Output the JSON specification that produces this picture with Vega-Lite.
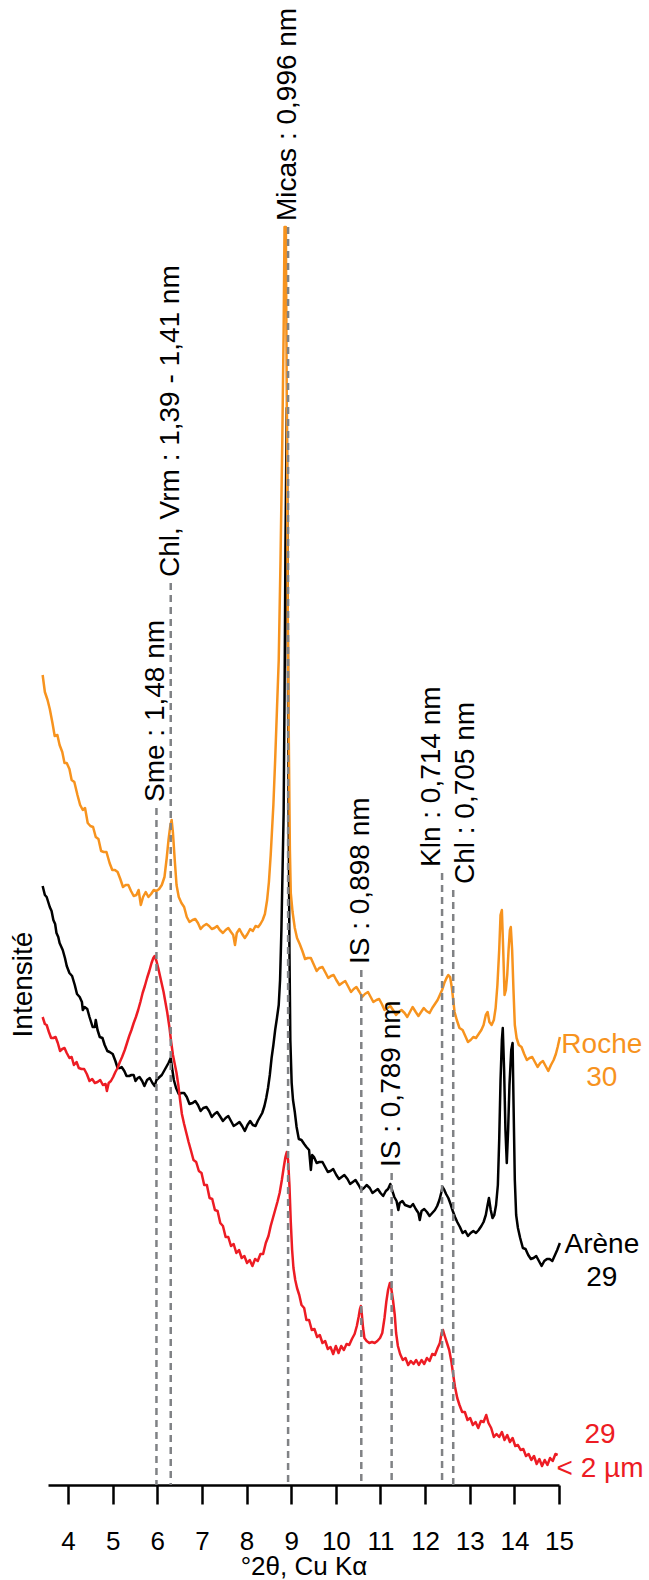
{
  "$schema": "https://vega.github.io/schema/vega-lite/v6.json",
  "width": 511,
  "height": 1485,
  "autosize": {"type": "none"},
  "padding": {"left": 48, "right": 90, "top": 0, "bottom": 95},
  "background": "white",
  "config": {"view": {"stroke": null}, "font": "Liberation Sans"},
  "datasets": {
    "roche": [
      {"t":3.43,"i":810},{"t":3.48,"i":793},{"t":3.54,"i":785},{"t":3.59,"i":776},{"t":3.65,"i":762},{"t":3.70,"i":749},{"t":3.76,"i":750},{"t":3.81,"i":740},{"t":3.87,"i":733},{"t":3.92,"i":722},{"t":3.97,"i":722},{"t":4.03,"i":716},{"t":4.08,"i":705},{"t":4.14,"i":703},{"t":4.21,"i":690},{"t":4.27,"i":680},{"t":4.33,"i":675},{"t":4.38,"i":677},{"t":4.44,"i":662},{"t":4.50,"i":659},{"t":4.56,"i":658},{"t":4.62,"i":648},{"t":4.68,"i":646},{"t":4.74,"i":634},{"t":4.80,"i":633},{"t":4.86,"i":633},{"t":4.93,"i":622},{"t":4.99,"i":615},{"t":5.05,"i":615},{"t":5.11,"i":613},{"t":5.17,"i":606},{"t":5.23,"i":598},{"t":5.29,"i":600},{"t":5.35,"i":600},{"t":5.41,"i":594},{"t":5.47,"i":589},{"t":5.53,"i":590},{"t":5.58,"i":595},{"t":5.63,"i":580},{"t":5.68,"i":588},{"t":5.74,"i":593},{"t":5.80,"i":588},{"t":5.86,"i":591},{"t":5.92,"i":595},{"t":5.98,"i":594},{"t":6.04,"i":596},{"t":6.10,"i":600},{"t":6.16,"i":608},{"t":6.21,"i":627},{"t":6.25,"i":645},{"t":6.29,"i":659},{"t":6.32,"i":665},{"t":6.35,"i":652},{"t":6.39,"i":625},{"t":6.43,"i":600},{"t":6.48,"i":588},{"t":6.54,"i":582},{"t":6.60,"i":578},{"t":6.66,"i":568},{"t":6.72,"i":563},{"t":6.79,"i":565},{"t":6.85,"i":566},{"t":6.91,"i":562},{"t":6.97,"i":556},{"t":7.03,"i":559},{"t":7.10,"i":561},{"t":7.16,"i":559},{"t":7.22,"i":556},{"t":7.28,"i":557},{"t":7.34,"i":559},{"t":7.40,"i":555},{"t":7.47,"i":552},{"t":7.53,"i":555},{"t":7.59,"i":557},{"t":7.65,"i":553},{"t":7.70,"i":550},{"t":7.74,"i":540},{"t":7.78,"i":552},{"t":7.84,"i":556},{"t":7.90,"i":551},{"t":7.96,"i":547},{"t":8.02,"i":551},{"t":8.08,"i":556},{"t":8.14,"i":554},{"t":8.20,"i":559},{"t":8.26,"i":558},{"t":8.31,"i":561},{"t":8.36,"i":565},{"t":8.41,"i":571},{"t":8.46,"i":585},{"t":8.50,"i":603},{"t":8.54,"i":630},{"t":8.57,"i":655},{"t":8.60,"i":680},{"t":8.64,"i":725},{"t":8.68,"i":775},{"t":8.72,"i":825},{"t":8.76,"i":925},{"t":8.80,"i":1045},{"t":8.83,"i":1155},{"t":8.85,"i":1258},{"t":8.88,"i":1258},{"t":8.90,"i":1085},{"t":8.92,"i":885},{"t":8.95,"i":725},{"t":8.97,"i":635},{"t":8.99,"i":592},{"t":9.03,"i":573},{"t":9.08,"i":557},{"t":9.13,"i":547},{"t":9.19,"i":541},{"t":9.25,"i":534},{"t":9.31,"i":526},{"t":9.37,"i":527},{"t":9.44,"i":527},{"t":9.50,"i":521},{"t":9.57,"i":514},{"t":9.63,"i":517},{"t":9.70,"i":518},{"t":9.76,"i":513},{"t":9.83,"i":507},{"t":9.89,"i":509},{"t":9.95,"i":510},{"t":10.01,"i":505},{"t":10.08,"i":500},{"t":10.14,"i":502},{"t":10.21,"i":504},{"t":10.27,"i":499},{"t":10.34,"i":493},{"t":10.40,"i":496},{"t":10.46,"i":498},{"t":10.53,"i":493},{"t":10.59,"i":488},{"t":10.65,"i":491},{"t":10.72,"i":493},{"t":10.78,"i":488},{"t":10.84,"i":483},{"t":10.91,"i":485},{"t":10.97,"i":486},{"t":11.03,"i":481},{"t":11.09,"i":475},{"t":11.16,"i":477},{"t":11.22,"i":479},{"t":11.28,"i":475},{"t":11.35,"i":470},{"t":11.41,"i":473},{"t":11.47,"i":475},{"t":11.54,"i":472},{"t":11.60,"i":468},{"t":11.66,"i":473},{"t":11.72,"i":478},{"t":11.79,"i":473},{"t":11.85,"i":469},{"t":11.91,"i":473},{"t":11.97,"i":477},{"t":12.03,"i":474},{"t":12.10,"i":472},{"t":12.16,"i":477},{"t":12.22,"i":481},{"t":12.28,"i":485},{"t":12.33,"i":490},{"t":12.38,"i":495},{"t":12.43,"i":502},{"t":12.48,"i":507},{"t":12.52,"i":510},{"t":12.56,"i":508},{"t":12.60,"i":497},{"t":12.63,"i":485},{"t":12.66,"i":473},{"t":12.71,"i":465},{"t":12.77,"i":457},{"t":12.84,"i":455},{"t":12.90,"i":449},{"t":12.96,"i":443},{"t":13.02,"i":445},{"t":13.08,"i":448},{"t":13.14,"i":447},{"t":13.20,"i":451},{"t":13.26,"i":455},{"t":13.31,"i":460},{"t":13.36,"i":470},{"t":13.40,"i":473},{"t":13.44,"i":463},{"t":13.49,"i":460},{"t":13.54,"i":465},{"t":13.58,"i":477},{"t":13.62,"i":500},{"t":13.66,"i":535},{"t":13.69,"i":570},{"t":13.72,"i":575},{"t":13.75,"i":535},{"t":13.78,"i":490},{"t":13.81,"i":495},{"t":13.84,"i":510},{"t":13.87,"i":535},{"t":13.90,"i":555},{"t":13.92,"i":558},{"t":13.95,"i":535},{"t":13.98,"i":495},{"t":14.01,"i":460},{"t":14.05,"i":447},{"t":14.10,"i":440},{"t":14.16,"i":438},{"t":14.22,"i":431},{"t":14.28,"i":425},{"t":14.34,"i":427},{"t":14.40,"i":428},{"t":14.46,"i":423},{"t":14.52,"i":418},{"t":14.58,"i":422},{"t":14.64,"i":424},{"t":14.70,"i":419},{"t":14.76,"i":414},{"t":14.82,"i":420},{"t":14.88,"i":425},{"t":14.93,"i":431},{"t":14.97,"i":438},{"t":15.02,"i":448}
    ],
    "arene": [
      {"t":3.43,"i":599},{"t":3.48,"i":590},{"t":3.52,"i":588},{"t":3.59,"i":578},{"t":3.63,"i":574},{"t":3.67,"i":565},{"t":3.71,"i":561},{"t":3.74,"i":552},{"t":3.78,"i":548},{"t":3.81,"i":542},{"t":3.85,"i":538},{"t":3.88,"i":535},{"t":3.93,"i":527},{"t":3.97,"i":519},{"t":4.03,"i":512},{"t":4.09,"i":509},{"t":4.15,"i":500},{"t":4.20,"i":491},{"t":4.26,"i":488},{"t":4.31,"i":483},{"t":4.33,"i":475},{"t":4.37,"i":478},{"t":4.43,"i":476},{"t":4.48,"i":468},{"t":4.55,"i":458},{"t":4.60,"i":458},{"t":4.62,"i":465},{"t":4.66,"i":455},{"t":4.71,"i":448},{"t":4.77,"i":447},{"t":4.82,"i":440},{"t":4.88,"i":434},{"t":4.93,"i":433},{"t":5.00,"i":431},{"t":5.06,"i":424},{"t":5.11,"i":417},{"t":5.16,"i":417},{"t":5.20,"i":418},{"t":5.26,"i":414},{"t":5.31,"i":409},{"t":5.37,"i":409},{"t":5.42,"i":410},{"t":5.47,"i":410},{"t":5.51,"i":404},{"t":5.56,"i":407},{"t":5.60,"i":408},{"t":5.66,"i":404},{"t":5.71,"i":399},{"t":5.77,"i":405},{"t":5.83,"i":407},{"t":5.89,"i":402},{"t":5.94,"i":399},{"t":5.98,"i":405},{"t":6.05,"i":408},{"t":6.10,"i":410},{"t":6.15,"i":414},{"t":6.20,"i":418},{"t":6.25,"i":422},{"t":6.30,"i":427},{"t":6.33,"i":417},{"t":6.37,"i":405},{"t":6.42,"i":397},{"t":6.48,"i":391},{"t":6.54,"i":392},{"t":6.60,"i":392},{"t":6.66,"i":388},{"t":6.72,"i":381},{"t":6.79,"i":382},{"t":6.85,"i":384},{"t":6.91,"i":380},{"t":6.97,"i":374},{"t":7.03,"i":377},{"t":7.10,"i":378},{"t":7.16,"i":374},{"t":7.22,"i":368},{"t":7.28,"i":371},{"t":7.34,"i":373},{"t":7.40,"i":369},{"t":7.47,"i":364},{"t":7.53,"i":367},{"t":7.59,"i":369},{"t":7.65,"i":364},{"t":7.71,"i":359},{"t":7.78,"i":361},{"t":7.84,"i":363},{"t":7.90,"i":359},{"t":7.96,"i":354},{"t":8.02,"i":360},{"t":8.08,"i":364},{"t":8.14,"i":360},{"t":8.20,"i":359},{"t":8.25,"i":364},{"t":8.30,"i":368},{"t":8.35,"i":372},{"t":8.40,"i":379},{"t":8.44,"i":387},{"t":8.48,"i":397},{"t":8.52,"i":410},{"t":8.56,"i":427},{"t":8.60,"i":440},{"t":8.64,"i":455},{"t":8.68,"i":467},{"t":8.72,"i":480},{"t":8.75,"i":505},{"t":8.78,"i":555},{"t":8.81,"i":625},{"t":8.83,"i":672},{"t":8.85,"i":785},{"t":8.87,"i":935},{"t":8.90,"i":1077},{"t":8.92,"i":885},{"t":8.94,"i":685},{"t":8.96,"i":535},{"t":8.98,"i":445},{"t":9.01,"i":402},{"t":9.04,"i":385},{"t":9.08,"i":373},{"t":9.12,"i":358},{"t":9.17,"i":346},{"t":9.23,"i":345},{"t":9.29,"i":341},{"t":9.34,"i":338},{"t":9.40,"i":335},{"t":9.44,"i":315},{"t":9.47,"i":330},{"t":9.51,"i":328},{"t":9.57,"i":322},{"t":9.63,"i":323},{"t":9.70,"i":323},{"t":9.76,"i":318},{"t":9.82,"i":313},{"t":9.88,"i":314},{"t":9.94,"i":316},{"t":10.01,"i":310},{"t":10.07,"i":306},{"t":10.13,"i":308},{"t":10.19,"i":310},{"t":10.26,"i":306},{"t":10.32,"i":301},{"t":10.38,"i":303},{"t":10.44,"i":305},{"t":10.51,"i":300},{"t":10.57,"i":295},{"t":10.63,"i":297},{"t":10.69,"i":300},{"t":10.76,"i":297},{"t":10.82,"i":292},{"t":10.88,"i":294},{"t":10.94,"i":296},{"t":11.00,"i":292},{"t":11.06,"i":289},{"t":11.12,"i":294},{"t":11.17,"i":296},{"t":11.22,"i":301},{"t":11.26,"i":295},{"t":11.31,"i":288},{"t":11.36,"i":284},{"t":11.40,"i":275},{"t":11.43,"i":282},{"t":11.49,"i":284},{"t":11.55,"i":280},{"t":11.61,"i":279},{"t":11.67,"i":278},{"t":11.73,"i":281},{"t":11.79,"i":276},{"t":11.85,"i":272},{"t":11.88,"i":265},{"t":11.92,"i":274},{"t":11.98,"i":276},{"t":12.04,"i":273},{"t":12.10,"i":269},{"t":12.16,"i":272},{"t":12.22,"i":275},{"t":12.27,"i":279},{"t":12.32,"i":285},{"t":12.36,"i":292},{"t":12.39,"i":298},{"t":12.43,"i":295},{"t":12.47,"i":291},{"t":12.52,"i":287},{"t":12.57,"i":281},{"t":12.62,"i":274},{"t":12.67,"i":268},{"t":12.72,"i":263},{"t":12.78,"i":258},{"t":12.84,"i":252},{"t":12.90,"i":254},{"t":12.96,"i":249},{"t":13.02,"i":252},{"t":13.08,"i":254},{"t":13.14,"i":252},{"t":13.20,"i":255},{"t":13.26,"i":259},{"t":13.31,"i":263},{"t":13.36,"i":270},{"t":13.40,"i":280},{"t":13.43,"i":287},{"t":13.47,"i":275},{"t":13.51,"i":267},{"t":13.55,"i":270},{"t":13.59,"i":280},{"t":13.63,"i":300},{"t":13.66,"i":345},{"t":13.69,"i":405},{"t":13.72,"i":445},{"t":13.74,"i":457},{"t":13.77,"i":415},{"t":13.80,"i":355},{"t":13.83,"i":322},{"t":13.86,"i":355},{"t":13.89,"i":400},{"t":13.93,"i":435},{"t":13.96,"i":442},{"t":13.98,"i":385},{"t":14.01,"i":305},{"t":14.04,"i":270},{"t":14.08,"i":257},{"t":14.13,"i":247},{"t":14.19,"i":237},{"t":14.25,"i":236},{"t":14.31,"i":230},{"t":14.37,"i":226},{"t":14.43,"i":227},{"t":14.49,"i":229},{"t":14.55,"i":224},{"t":14.61,"i":219},{"t":14.67,"i":224},{"t":14.73,"i":226},{"t":14.79,"i":226},{"t":14.85,"i":224},{"t":14.91,"i":230},{"t":14.96,"i":235},{"t":15.02,"i":242}
    ],
    "fine": [
      {"t":3.43,"i":468},{"t":3.48,"i":461},{"t":3.52,"i":460},{"t":3.57,"i":453},{"t":3.62,"i":447},{"t":3.67,"i":447},{"t":3.72,"i":448},{"t":3.77,"i":442},{"t":3.82,"i":434},{"t":3.87,"i":436},{"t":3.92,"i":437},{"t":3.97,"i":432},{"t":4.03,"i":427},{"t":4.08,"i":428},{"t":4.13,"i":420},{"t":4.19,"i":423},{"t":4.24,"i":417},{"t":4.30,"i":416},{"t":4.36,"i":416},{"t":4.42,"i":411},{"t":4.48,"i":404},{"t":4.54,"i":406},{"t":4.60,"i":402},{"t":4.66,"i":403},{"t":4.72,"i":405},{"t":4.78,"i":400},{"t":4.84,"i":401},{"t":4.87,"i":394},{"t":4.91,"i":402},{"t":4.96,"i":404},{"t":5.01,"i":408},{"t":5.06,"i":413},{"t":5.11,"i":417},{"t":5.16,"i":423},{"t":5.21,"i":428},{"t":5.27,"i":435},{"t":5.32,"i":442},{"t":5.37,"i":449},{"t":5.42,"i":455},{"t":5.47,"i":462},{"t":5.52,"i":468},{"t":5.57,"i":475},{"t":5.62,"i":483},{"t":5.67,"i":492},{"t":5.72,"i":499},{"t":5.77,"i":507},{"t":5.82,"i":514},{"t":5.87,"i":522},{"t":5.91,"i":527},{"t":5.94,"i":529},{"t":5.98,"i":524},{"t":6.02,"i":517},{"t":6.06,"i":509},{"t":6.10,"i":501},{"t":6.14,"i":493},{"t":6.18,"i":483},{"t":6.22,"i":473},{"t":6.27,"i":458},{"t":6.31,"i":443},{"t":6.35,"i":430},{"t":6.39,"i":421},{"t":6.43,"i":412},{"t":6.47,"i":400},{"t":6.51,"i":385},{"t":6.55,"i":371},{"t":6.60,"i":361},{"t":6.65,"i":352},{"t":6.70,"i":343},{"t":6.75,"i":335},{"t":6.81,"i":325},{"t":6.87,"i":323},{"t":6.93,"i":314},{"t":6.99,"i":312},{"t":7.05,"i":300},{"t":7.11,"i":300},{"t":7.17,"i":287},{"t":7.23,"i":286},{"t":7.29,"i":275},{"t":7.35,"i":274},{"t":7.41,"i":262},{"t":7.47,"i":259},{"t":7.53,"i":248},{"t":7.59,"i":248},{"t":7.65,"i":239},{"t":7.71,"i":241},{"t":7.77,"i":232},{"t":7.83,"i":235},{"t":7.89,"i":227},{"t":7.95,"i":229},{"t":8.01,"i":222},{"t":8.07,"i":225},{"t":8.13,"i":219},{"t":8.19,"i":226},{"t":8.25,"i":224},{"t":8.31,"i":231},{"t":8.37,"i":231},{"t":8.43,"i":242},{"t":8.49,"i":249},{"t":8.54,"i":259},{"t":8.59,"i":267},{"t":8.64,"i":275},{"t":8.69,"i":283},{"t":8.74,"i":292},{"t":8.79,"i":305},{"t":8.83,"i":317},{"t":8.87,"i":328},{"t":8.90,"i":333},{"t":8.93,"i":325},{"t":8.96,"i":300},{"t":8.99,"i":263},{"t":9.02,"i":235},{"t":9.05,"i":217},{"t":9.09,"i":205},{"t":9.13,"i":197},{"t":9.18,"i":190},{"t":9.23,"i":180},{"t":9.29,"i":177},{"t":9.34,"i":165},{"t":9.40,"i":165},{"t":9.46,"i":155},{"t":9.52,"i":156},{"t":9.58,"i":148},{"t":9.64,"i":150},{"t":9.70,"i":142},{"t":9.76,"i":144},{"t":9.82,"i":136},{"t":9.88,"i":138},{"t":9.94,"i":131},{"t":10.00,"i":139},{"t":10.06,"i":132},{"t":10.12,"i":139},{"t":10.18,"i":135},{"t":10.24,"i":141},{"t":10.30,"i":140},{"t":10.36,"i":146},{"t":10.42,"i":151},{"t":10.47,"i":159},{"t":10.51,"i":168},{"t":10.54,"i":176},{"t":10.56,"i":179},{"t":10.58,"i":172},{"t":10.61,"i":157},{"t":10.64,"i":147},{"t":10.69,"i":144},{"t":10.75,"i":142},{"t":10.81,"i":143},{"t":10.87,"i":142},{"t":10.93,"i":144},{"t":10.99,"i":147},{"t":11.04,"i":152},{"t":11.09,"i":167},{"t":11.13,"i":183},{"t":11.17,"i":195},{"t":11.21,"i":202},{"t":11.24,"i":197},{"t":11.28,"i":185},{"t":11.32,"i":170},{"t":11.35,"i":152},{"t":11.39,"i":139},{"t":11.44,"i":131},{"t":11.50,"i":125},{"t":11.56,"i":127},{"t":11.62,"i":120},{"t":11.68,"i":124},{"t":11.74,"i":121},{"t":11.80,"i":125},{"t":11.86,"i":120},{"t":11.92,"i":125},{"t":11.98,"i":121},{"t":12.04,"i":127},{"t":12.10,"i":124},{"t":12.16,"i":131},{"t":12.22,"i":130},{"t":12.28,"i":137},{"t":12.33,"i":142},{"t":12.37,"i":152},{"t":12.40,"i":155},{"t":12.44,"i":149},{"t":12.49,"i":142},{"t":12.54,"i":135},{"t":12.59,"i":123},{"t":12.63,"i":110},{"t":12.67,"i":98},{"t":12.72,"i":87},{"t":12.77,"i":80},{"t":12.83,"i":73},{"t":12.89,"i":73},{"t":12.95,"i":65},{"t":13.01,"i":67},{"t":13.07,"i":60},{"t":13.13,"i":63},{"t":13.19,"i":57},{"t":13.25,"i":64},{"t":13.31,"i":63},{"t":13.37,"i":70},{"t":13.42,"i":62},{"t":13.48,"i":57},{"t":13.54,"i":48},{"t":13.60,"i":51},{"t":13.66,"i":48},{"t":13.72,"i":53},{"t":13.78,"i":45},{"t":13.84,"i":50},{"t":13.90,"i":43},{"t":13.96,"i":47},{"t":14.02,"i":39},{"t":14.08,"i":40},{"t":14.14,"i":35},{"t":14.20,"i":36},{"t":14.26,"i":29},{"t":14.32,"i":31},{"t":14.38,"i":25},{"t":14.44,"i":29},{"t":14.50,"i":21},{"t":14.56,"i":26},{"t":14.62,"i":19},{"t":14.68,"i":25},{"t":14.74,"i":20},{"t":14.80,"i":27},{"t":14.86,"i":24},{"t":14.92,"i":31},{"t":14.97,"i":30}
    ],
    "peaks": [
      {"t":5.98,"top":677,"label":"Sme : 1,48 nm"},
      {"t":6.30,"top":902,"label":"Chl, Vrm : 1,39 - 1,41 nm"},
      {"t":8.93,"top":1258,"label":"Micas : 0,996 nm"},
      {"t":10.57,"top":515,"label":"IS : 0,898 nm"},
      {"t":11.25,"top":312,"label":"IS : 0,789 nm"},
      {"t":12.38,"top":612,"label":"Kln : 0,714 nm"},
      {"t":12.63,"top":595,"label":"Chl : 0,705 nm"}
    ],
    "names": [
      {"t":15.96,"i":440,"name":"Roche","s":"roche"},
      {"t":15.96,"i":407,"name":"30","s":"roche"},
      {"t":15.96,"i":240,"name":"Arène","s":"arene"},
      {"t":15.96,"i":207,"name":"29","s":"arene"},
      {"t":15.92,"i":50,"name":"29","s":"fine"},
      {"t":15.92,"i":16,"name":"< 2 µm","s":"fine"}
    ]
  },
  "layer": [
    {
      "data": {"name": "arene"},
      "mark": {"type": "line", "color": "#000000", "strokeWidth": 2.5, "strokeJoin": "round"},
      "encoding": {
        "x": {"field": "t", "type": "quantitative", "scale": {"domain": [3.55, 15], "nice": false, "zero": false},
          "axis": {"title": "°2θ, Cu Kα", "values": [4,4.5,5,5.5,6,6.5,7,7.5,8,8.5,9,9.5,10,10.5,11,11.5,12,12.5,13,13.5,14,14.5,15],
            "grid": false, "domainColor": "black", "domainWidth": 2.5, "tickColor": "black", "tickWidth": 2.5,
            "tickSize": {"condition": {"test": "datum.value % 1 === 0", "value": 19}, "value": 9},
            "labelExpr": "datum.value % 1 === 0 ? '' + datum.value : ''",
            "labelFontSize": 26, "labelFont": "Liberation Sans", "labelColor": "black", "labelPadding": 24,
            "labelOverlap": false, "labelFlush": false,
            "titleFontSize": 26, "titleFontWeight": "normal", "titleFont": "Liberation Sans", "titleColor": "black",
            "titleY": 68, "titleBaseline": "top"}},
        "y": {"field": "i", "type": "quantitative", "scale": {"domain": [0, 1485], "nice": false, "zero": false},
          "axis": {"title": "Intensité", "domain": false, "ticks": false, "labels": false, "grid": false,
            "titleFontSize": 28, "titleFontWeight": "normal", "titleFont": "Liberation Sans", "titleColor": "black",
            "titleAngle": 270, "titleX": -25, "titleY": 984, "titleAlign": "center", "titleBaseline": "middle"}}
      }
    },
    {
      "data": {"name": "roche"},
      "mark": {"type": "line", "color": "#F7931E", "strokeWidth": 2.5, "strokeJoin": "round"},
      "encoding": {"x": {"field": "t", "type": "quantitative"}, "y": {"field": "i", "type": "quantitative"}}
    },
    {
      "data": {"name": "fine"},
      "mark": {"type": "line", "color": "#ED1C24", "strokeWidth": 2.5, "strokeJoin": "round"},
      "encoding": {"x": {"field": "t", "type": "quantitative"}, "y": {"field": "i", "type": "quantitative"}}
    },
    {
      "data": {"name": "peaks"},
      "mark": {"type": "rule", "color": "#808285", "strokeWidth": 2.5, "strokeDash": [7, 5]},
      "encoding": {"x": {"field": "t", "type": "quantitative"}, "y": {"field": "top", "type": "quantitative"}, "y2": {"datum": 0}}
    },
    {
      "data": {"name": "peaks"},
      "transform": [{"filter": "datum.label !== 'Kln : 0,714 nm' && datum.label !== 'Chl : 0,705 nm'"}],
      "mark": {"type": "text", "angle": 270, "align": "left", "baseline": "middle", "dx": 6, "fontSize": 28, "font": "Liberation Sans", "color": "black"},
      "encoding": {"x": {"field": "t", "type": "quantitative"}, "y": {"field": "top", "type": "quantitative"}, "text": {"field": "label"}}
    },
    {
      "data": {"name": "peaks"},
      "transform": [{"filter": "datum.label === 'Kln : 0,714 nm'"}],
      "mark": {"type": "text", "angle": 270, "align": "left", "baseline": "middle", "dx": 6, "dy": -10, "fontSize": 28, "font": "Liberation Sans", "color": "black"},
      "encoding": {"x": {"field": "t", "type": "quantitative"}, "y": {"field": "top", "type": "quantitative"}, "text": {"field": "label"}}
    },
    {
      "data": {"name": "peaks"},
      "transform": [{"filter": "datum.label === 'Chl : 0,705 nm'"}],
      "mark": {"type": "text", "angle": 270, "align": "left", "baseline": "middle", "dx": 6, "dy": 13, "fontSize": 28, "font": "Liberation Sans", "color": "black"},
      "encoding": {"x": {"field": "t", "type": "quantitative"}, "y": {"field": "top", "type": "quantitative"}, "text": {"field": "label"}}
    },
    {
      "data": {"name": "names"},
      "mark": {"type": "text", "align": "center", "baseline": "middle", "fontSize": 28, "font": "Liberation Sans"},
      "encoding": {
        "x": {"field": "t", "type": "quantitative"},
        "y": {"field": "i", "type": "quantitative"},
        "text": {"field": "name"},
        "color": {"field": "s", "type": "nominal", "scale": {"domain": ["roche", "arene", "fine"], "range": ["#F7931E", "#000000", "#ED1C24"]}, "legend": null}
      }
    }
  ]
}
